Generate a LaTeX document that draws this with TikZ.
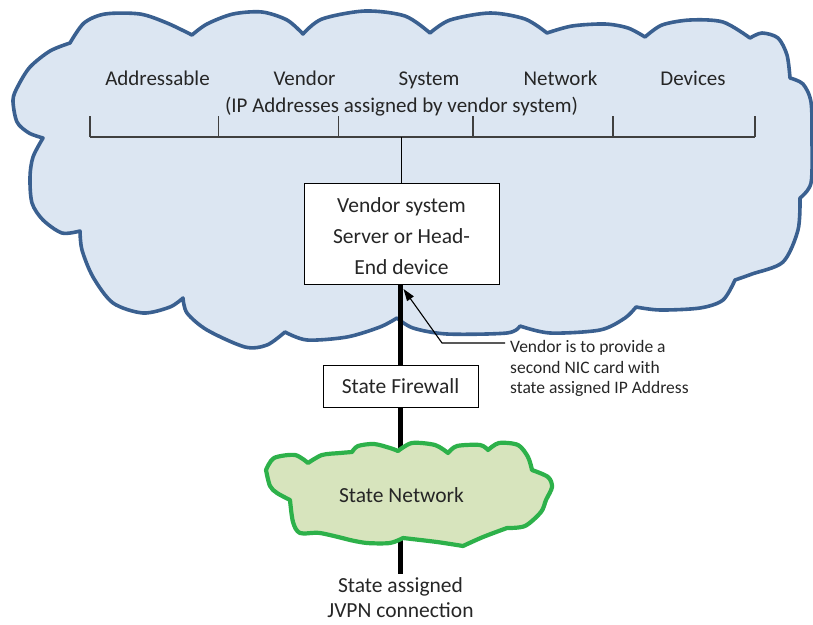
\documentclass[tikz,border=0pt]{standalone}
\usepackage{fontspec}
\setmainfont{Carlito}
\usetikzlibrary{arrows.meta}
\definecolor{cloudfill}{HTML}{DCE6F2}
\definecolor{clouddraw}{HTML}{3A6090}
\definecolor{greenfill}{HTML}{D7E4BD}
\definecolor{greendraw}{HTML}{2DB14A}
\definecolor{txt}{HTML}{262626}
\definecolor{busgray}{HTML}{404040}
\tikzset{
  bluecloud/.style={fill=cloudfill, draw=clouddraw, line width=3.6pt, line join=round},
  greencloud/.style={fill=greenfill, draw=greendraw, line width=4.2pt, line join=round},
  lbl/.style={text=txt, font=\fontsize{21}{26}\selectfont, inner sep=0pt},
  boxnode/.style={draw=black, line width=1pt, fill=white, text=txt, align=center, inner sep=0pt},
  thick link/.style={line width=4.5pt, black},
  bus/.style={draw=busgray, line width=2pt},
  tick/.style={draw=busgray, line width=1.3pt},
  annot/.style={line width=1.1pt, black},
}
\begin{document}
\begin{tikzpicture}[x=1pt,y=-1pt]
\useasboundingbox (0,0) rectangle (813,624);

% big vendor cloud
\draw[bluecloud]
  plot[smooth] coordinates {(70,43) (84,23) (105,14) (140,14) (167,23) (192,35)}
  -- plot[smooth] coordinates {(192,35) (207,24) (233,14) (262,12) (287,20) (303,34)}
  -- plot[smooth] coordinates {(303,34) (322,19) (365,11) (405,16) (430,33)}
  -- plot[smooth] coordinates {(430,33) (450,20) (490,13) (525,19) (547,33)}
  -- plot[smooth] coordinates {(547,33) (572,26) (605,24) (628,28) (645,37)}
  -- plot[smooth] coordinates {(645,37) (662,25) (690,20) (723,22) (750,38)}
  -- plot[smooth] coordinates {(750,38) (762,33) (778,38) (787,55) (790,78)}
  -- plot[smooth] coordinates {(790,78) (803,84) (811,102) (812,140) (811,183) (800,198)}
  -- plot[smooth] coordinates {(800,198) (798,230) (783,262) (752,274) (735,280)}
  -- plot[smooth] coordinates {(735,280) (723,300) (700,308) (660,310) (636,307)}
  -- plot[smooth] coordinates {(636,307) (625,318) (600,330) (550,333) (520,326)}
  -- plot[smooth] coordinates {(520,326) (507,333) (447,334) (413,328) (397,318)}
  -- plot[smooth] coordinates {(397,318) (380,327) (347,337) (307,340) (285,332)}
  -- plot[smooth] coordinates {(285,332) (267,345) (245,347) (207,330) (187,313) (183,298)}
  -- plot[smooth] coordinates {(183,298) (170,307) (143,313) (113,303) (93,277) (82,250) (80,231)}
  -- plot[smooth] coordinates {(80,231) (62,233) (43,220) (32,203) (30,177) (33,157) (43,138)}
  -- plot[smooth] coordinates {(43,138) (29,133) (17,122) (13,100) (18,86) (30,67) (50,51) (70,43)}
  -- cycle;

% address labels
\node[lbl, anchor=base] (l1) at (157.5,85.5) {Addressable};
\node[lbl, anchor=base] (l2) at (304.5,85.5) {Vendor};
\node[lbl, anchor=base] (l3) at (429,85.5) {System};
\node[lbl, anchor=base] (l4) at (560.5,85.5) {Network};
\node[lbl, anchor=base] (l5) at (693,85.5) {Devices};
\node[lbl, anchor=base] (ipnote) at (401.5,112) {(IP Addresses assigned by vendor system)};

% bus
\coordinate (b1) at (90,137);
\coordinate (b2) at (218.5,137);
\coordinate (b3) at (338.5,137);
\coordinate (b4) at (473,137);
\coordinate (b5) at (613,137);
\coordinate (b6) at (755,137);
\draw[bus] (b1) -- (b6);
\foreach \b in {b1,b2,b3,b4,b5,b6} \draw[tick] (\b) -- ++(0,-21);

% vendor server box
\node[boxnode, minimum width=195pt, minimum height=101pt,
      font=\fontsize{21.5}{31}\selectfont] (vbox) at (401.5,233.5)
  {\rule{0pt}{29.7pt}Vendor system\\\strut Server or Head-\\\strut End device};
\draw[line width=1.4pt, black] (vbox.north) -- (vbox.north |- b1);

% firewall
\node[boxnode, minimum width=155pt, minimum height=42pt,
      font=\fontsize{21.5}{26}\selectfont] (fw) at (400.5,386) {State Firewall};
\node[lbl, font=\fontsize{21.5}{25.5}\selectfont, align=center, anchor=north] (jvpn) at (400.5,574)
  {\strut State assigned\\\strut JVPN connection};

\draw[thick link] (vbox.south -| fw.north) -- (fw.north);
\draw[thick link] (fw.south) -- (jvpn.north);

% state network cloud
\draw[greencloud]
  plot[smooth] coordinates {(266,470) (274,458) (295,455) (308,463)}
  -- plot[smooth] coordinates {(308,463) (322,455) (340,453) (352,452)}
  -- plot[smooth] coordinates {(352,452) (358,446) (374,444) (390,448) (398,451)}
  -- plot[smooth] coordinates {(398,451) (412,443) (435,445) (448,453)}
  -- plot[smooth] coordinates {(448,453) (457,446) (480,445) (488,450)}
  -- plot[smooth] coordinates {(488,450) (499,443) (518,445) (528,457) (532,470)}
  -- plot[smooth] coordinates {(532,470) (548,477) (552,487) (546,500) (541,512) (525,526) (507,528)}
  -- plot[smooth] coordinates {(507,528) (483,537) (463,546)}
  -- plot[smooth] coordinates {(463,546) (437,542) (403,538)}
  -- plot[smooth] coordinates {(403,538) (390,543) (367,543) (350,540)}
  -- plot[smooth] coordinates {(350,540) (320,533) (300,533) (293,522) (290,500)}
  -- plot[smooth] coordinates {(290,500) (277,493) (270,486) (266,470)}
  -- cycle;
\node[lbl, font=\fontsize{21.5}{26}\selectfont] (sn) at (401.5,495) {State Network};

% annotation
\node[lbl, font=\fontsize{17.5}{20.5}\selectfont, align=left, anchor=north west] (note) at (510,338.3)
  {\strut Vendor is to provide a\\\strut second NIC card with\\\strut state assigned IP Address};
\coordinate (tip) at (403.5,289);
\coordinate (elbow) at (442,343);
\coordinate (noteend) at (505,343);
\draw[annot, -{Triangle[length=12pt,width=8pt]}] (noteend) -- (elbow) -- (tip);
\end{tikzpicture}
\end{document}
